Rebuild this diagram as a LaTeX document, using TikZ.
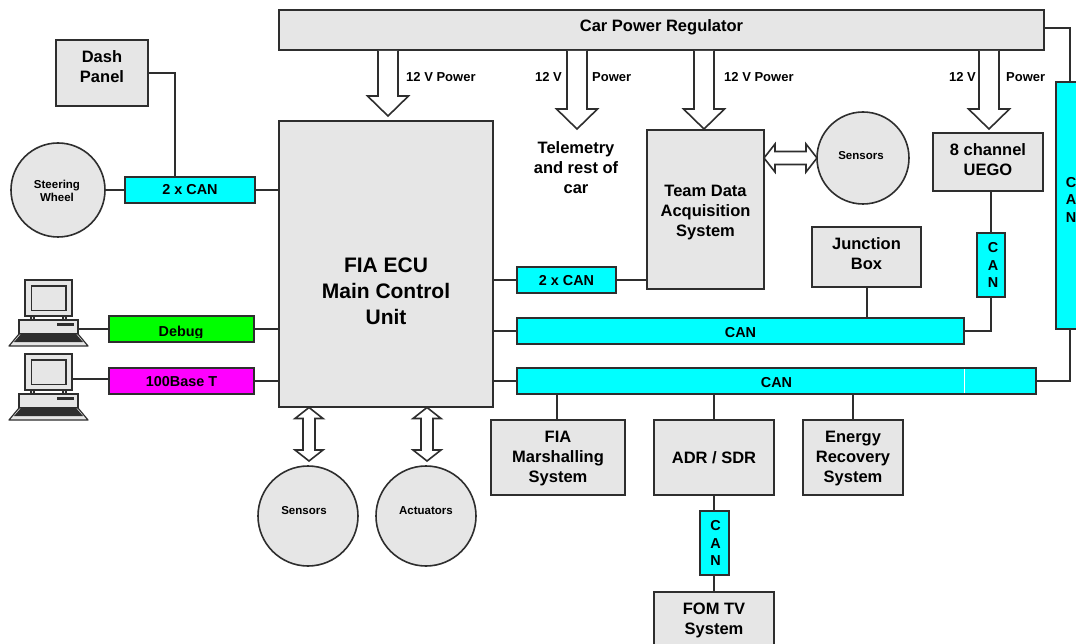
\documentclass[tikz,border=0pt]{standalone}
\usepackage{fontspec}
\setmainfont{Liberation Sans}
\usetikzlibrary{calc}
\definecolor{ln}{HTML}{2E2E2E}
\definecolor{bx}{HTML}{E6E6E6}
\definecolor{cy}{RGB}{0,255,255}
\definecolor{gr}{RGB}{0,255,0}
\definecolor{mg}{RGB}{255,0,255}
% [style][text offset dx,dy]{name}{l}{t}{r}{b}{text}
\NewDocumentCommand{\boxat}{O{} O{0,0} m m m m m m}{%
  \node[base box,#1,minimum width=#6pt-#4pt,minimum height=#7pt-#5pt] (#3) at ({(#4+#6)/2},{(#5+#7)/2}) {};
  \node[base box,#1,draw=none,fill=none] (#3t) at ($(#3.center)+(#2)$) {#8};}
\newcommand{\blockdown}[2]{% from, to
  \draw[wire,fill=white] let \p1=(#1), \p2=(#2) in
    (\x1-10pt,\y1) -- (\x1-10pt,\y2+20pt) -- (\x1-20.5pt,\y2+20pt) -- (\x1,\y2) -- (\x1+20.5pt,\y2+20pt) -- (\x1+10pt,\y2+20pt) -- (\x1+10pt,\y1);}
\newcommand{\dblvert}[2]{%
  \draw[wire,fill=white] let \p1=(#1), \p2=(#2) in
    (\x1,\y1) -- (\x1-14pt,\y1-11pt) -- (\x1-6pt,\y1-11pt) -- (\x1-6pt,\y2+11pt) -- (\x1-14pt,\y2+11pt) -- (\x1,\y2) -- (\x1+14pt,\y2+11pt) -- (\x1+6pt,\y2+11pt) -- (\x1+6pt,\y1-11pt) -- (\x1+14pt,\y1-11pt) -- cycle;}
\newcommand{\dblhoriz}[2]{%
  \draw[wire,fill=white] let \p1=(#1), \p2=(#2) in
    (\x1,\y1) -- (\x1+11pt,\y1+14pt) -- (\x1+11pt,\y1+6.5pt) -- (\x2-11pt,\y1+6.5pt) -- (\x2-11pt,\y1+14pt) -- (\x2,\y1) -- (\x2-11pt,\y1-14pt) -- (\x2-11pt,\y1-6.5pt) -- (\x1+11pt,\y1-6.5pt) -- (\x1+11pt,\y1-14pt) -- cycle;}
\tikzset{
  x=1pt,y=-1pt,
  base box/.style={draw=ln,line width=1.6pt,fill=bx,inner sep=0pt,align=center,font=\bfseries\fontsize{16.5}{20}\selectfont,text=black},
  cyanbox/.style={fill=cy,font=\bfseries\fontsize{14.4}{16}\selectfont},
  vertcan/.style={fill=cy,font=\bfseries\fontsize{14.4}{17.5}\selectfont},
  bigtext/.style={font=\bfseries\fontsize{21}{26}\selectfont},
  disc/.style={draw=ln,line width=1.6pt,fill=bx,circle,inner sep=0pt,align=center,text=black},
  disclabel/.style={inner sep=0pt,align=center,font=\bfseries\fontsize{11.5}{13}\selectfont,text=black},
  wire/.style={draw=ln,line width=1.6pt},
  lbl/.style={font=\bfseries\fontsize{13}{15}\selectfont,text=black,inner sep=0pt},
  pc part/.style={draw=ln,line width=1.2pt,fill=bx},
  pc/.pic={
    \path[pc part] (25,0) rectangle (72,36);
    \path[pc part] (31.5,6) rectangle (66,30.5);
    \path[pc part] (31,36) rectangle (34,40);
    \path[pc part] (63,36) rectangle (66,40);
    \path[pc part] (19,40) rectangle (78,54);
    \fill[ln] (57,43) rectangle (74,46);
    \path[draw=ln,line width=1.2pt,fill=bx,line join=round] (19,54) -- (78,54) -- (88,66) -- (9,66) -- cycle;
    \fill[ln] (21,54) -- (76,54) -- (83,62) -- (14,62) -- cycle;
  }
}
\begin{document}
\begin{tikzpicture}
\useasboundingbox (0,0) rectangle (1076,644);
\fill[white] (0,0) rectangle (1076,644);
% coordinates for arrows
\coordinate (ecutipu) at (388,116);
\coordinate (telemtip) at (577,129);
\coordinate (sensL) at (764,158);
\coordinate (sensR) at (817,158);
\coordinate (bsU) at (309,407.5);
\coordinate (bsD) at (309,461);
\coordinate (baU) at (427,407.5);
\coordinate (baD) at (427,461);
\coordinate (teamtip) at (704,129);
\coordinate (uegotip) at (989,129);
% boxes
\boxat[][0,-3]{power}{279}{10}{1044}{50}{Car Power Regulator}
\boxat[][0,-6]{dash}{56}{40}{148}{106}{Dash\\Panel}
\node[disc,minimum size=94pt] (wheel) at (58,190) {};
\node[disclabel] (wheelt) at (57,191) {Steering\\Wheel};
\boxat[cyanbox]{canA}{125}{177}{255}{203}{2 x CAN}
\boxat[bigtext][0,27]{ecu}{279}{121}{493}{407}{FIA ECU\\Main Control\\Unit}
\boxat[fill=gr]{debug}{109}{316}{254}{342}{}
\begin{scope}
\clip (109,316) rectangle (254,337);
\node[font=\bfseries\fontsize{14.4}{16}\selectfont,text=black,inner sep=0pt] (debugtxt) at (181,333) {Debug};
\end{scope}
\boxat[cyanbox,fill=mg][0,1]{base}{109}{368}{254}{394}{100Base T}
\boxat[cyanbox][0,1]{canB}{517}{267}{616}{293}{2 x CAN}
\boxat[][0,3]{team}{647}{130}{764}{289}{Team Data\\Acquisition\\System}
\node[disc,minimum size=92pt] (sens) at (863,158) {};
\node[disclabel] (senst) at (861,155.5) {Sensors};
\boxat[][0,-2]{uego}{933}{133}{1043}{191}{8 channel\\UEGO}
\boxat[vertcan][2,0]{canV}{977}{233}{1005}{297}{C\\A\\N}
\boxat[vertcan]{canR}{1056}{82}{1090}{329}{}
\node[font=\bfseries\fontsize{14.4}{17.5}\selectfont,align=center,inner sep=0pt,text=black] (canRt) at (1071,199.5) {C\\A\\N};
\boxat[][0,-3]{junc}{812}{227}{921}{287}{Junction\\Box}
\boxat[cyanbox][0,2]{canM}{517}{318}{964}{344}{CAN}
\boxat[cyanbox][0,2]{canL}{517}{368}{1036}{394}{CAN}
\draw[white,line width=0.6pt] (964,369) -- (964,393);
\boxat[][0,1]{fia}{491}{420}{625}{495}{FIA\\Marshalling\\System}
\boxat{adr}{654}{420}{774}{495}{ADR / SDR}
\boxat[][0,1]{energy}{803}{420}{903}{495}{Energy\\Recovery\\System}
\boxat[vertcan][1,0]{canD}{700}{511}{729}{575}{C\\A\\N}
\boxat[][0,1.5]{fom}{654}{592}{774}{646}{FOM TV\\System}
\node[disc,minimum size=100pt] (bsens) at (308,516) {};
\node[disclabel] (bsenst) at (304,510.5) {Sensors};
\node[disc,minimum size=100pt] (bact) at (426,516) {};
\node[disclabel] (bactt) at (426,510.5) {Actuators};
% computers
\pic (pcA) at (0,280) {pc};
\pic (pcB) at (0,354) {pc};
\coordinate (pcAr) at (78,329);
\coordinate (pcBr) at (72,379);
% connectors
\draw[wire] (dash.east |- 0,73) -| (canA.north -| 175,0);
\draw[wire] (wheel.east) -- (canA.west |- wheel.east);
\draw[wire] (canA.east) -- (ecu.west |- canA.east);
\draw[wire] (pcAr) -- (pcAr -| debug.west);
\draw[wire] (debug.east) -- (ecu.west |- debug.east);
\draw[wire] (pcBr) -- (pcBr -| base.west);
\draw[wire] (base.east) -- (ecu.west |- base.east);
\draw[wire] (ecu.east |- canB.west) -- (canB.west);
\draw[wire] (canB.east) -- (team.west |- canB.east);
\draw[wire] (ecu.east |- canM.west) -- (canM.west);
\draw[wire] (ecu.east |- canL.west) -- (canL.west);
\draw[wire] (junc.south -| 867,0) -- (canM.north -| 867,0);
\draw[wire] (canM.east) -| (canV.south);
\draw[wire] (canV.north) -- (canV.north |- uego.south);
\draw[wire] (canL.east) -| (canR.south -| 1070,0);
\draw[wire] (1070,0 |- canR.north) |- (power.east |- 0,28);
\draw[wire] (fia.north -| 557,0) -- (canL.south -| 557,0);
\draw[wire] (adr.north) -- (adr.north |- canL.south);
\draw[wire] (energy.north) -- (energy.north |- canL.south);
\draw[wire] (adr.south) -- (adr.south |- canD.north);
\draw[wire] (fom.north |- canD.south) -- (fom.north);
% block arrows
\blockdown{power.south -| ecutipu}{ecutipu}
\blockdown{power.south -| telemtip}{telemtip}
\blockdown{power.south -| teamtip}{teamtip}
\blockdown{power.south -| uegotip}{uegotip}
\dblhoriz{sensL}{sensR}
\dblvert{bsU}{bsD}
\dblvert{baU}{baD}
% labels
\node[lbl,anchor=west] (l1) at (406,77) {12 V Power};
\node[lbl,anchor=east] (l2a) at (562,77) {12 V};
\node[lbl,anchor=west] (l2b) at (592,77) {Power};
\node[lbl,anchor=west] (l3) at (724,77) {12 V Power};
\node[lbl,anchor=east] (l4a) at (976,77) {12 V};
\node[lbl,anchor=west] (l4b) at (1006,77) {Power};
\node[font=\bfseries\fontsize{16.5}{20}\selectfont,align=center,inner sep=0pt,text=black] (telem) at (576,168) {Telemetry\\and rest of\\car};
\end{tikzpicture}
\end{document}
